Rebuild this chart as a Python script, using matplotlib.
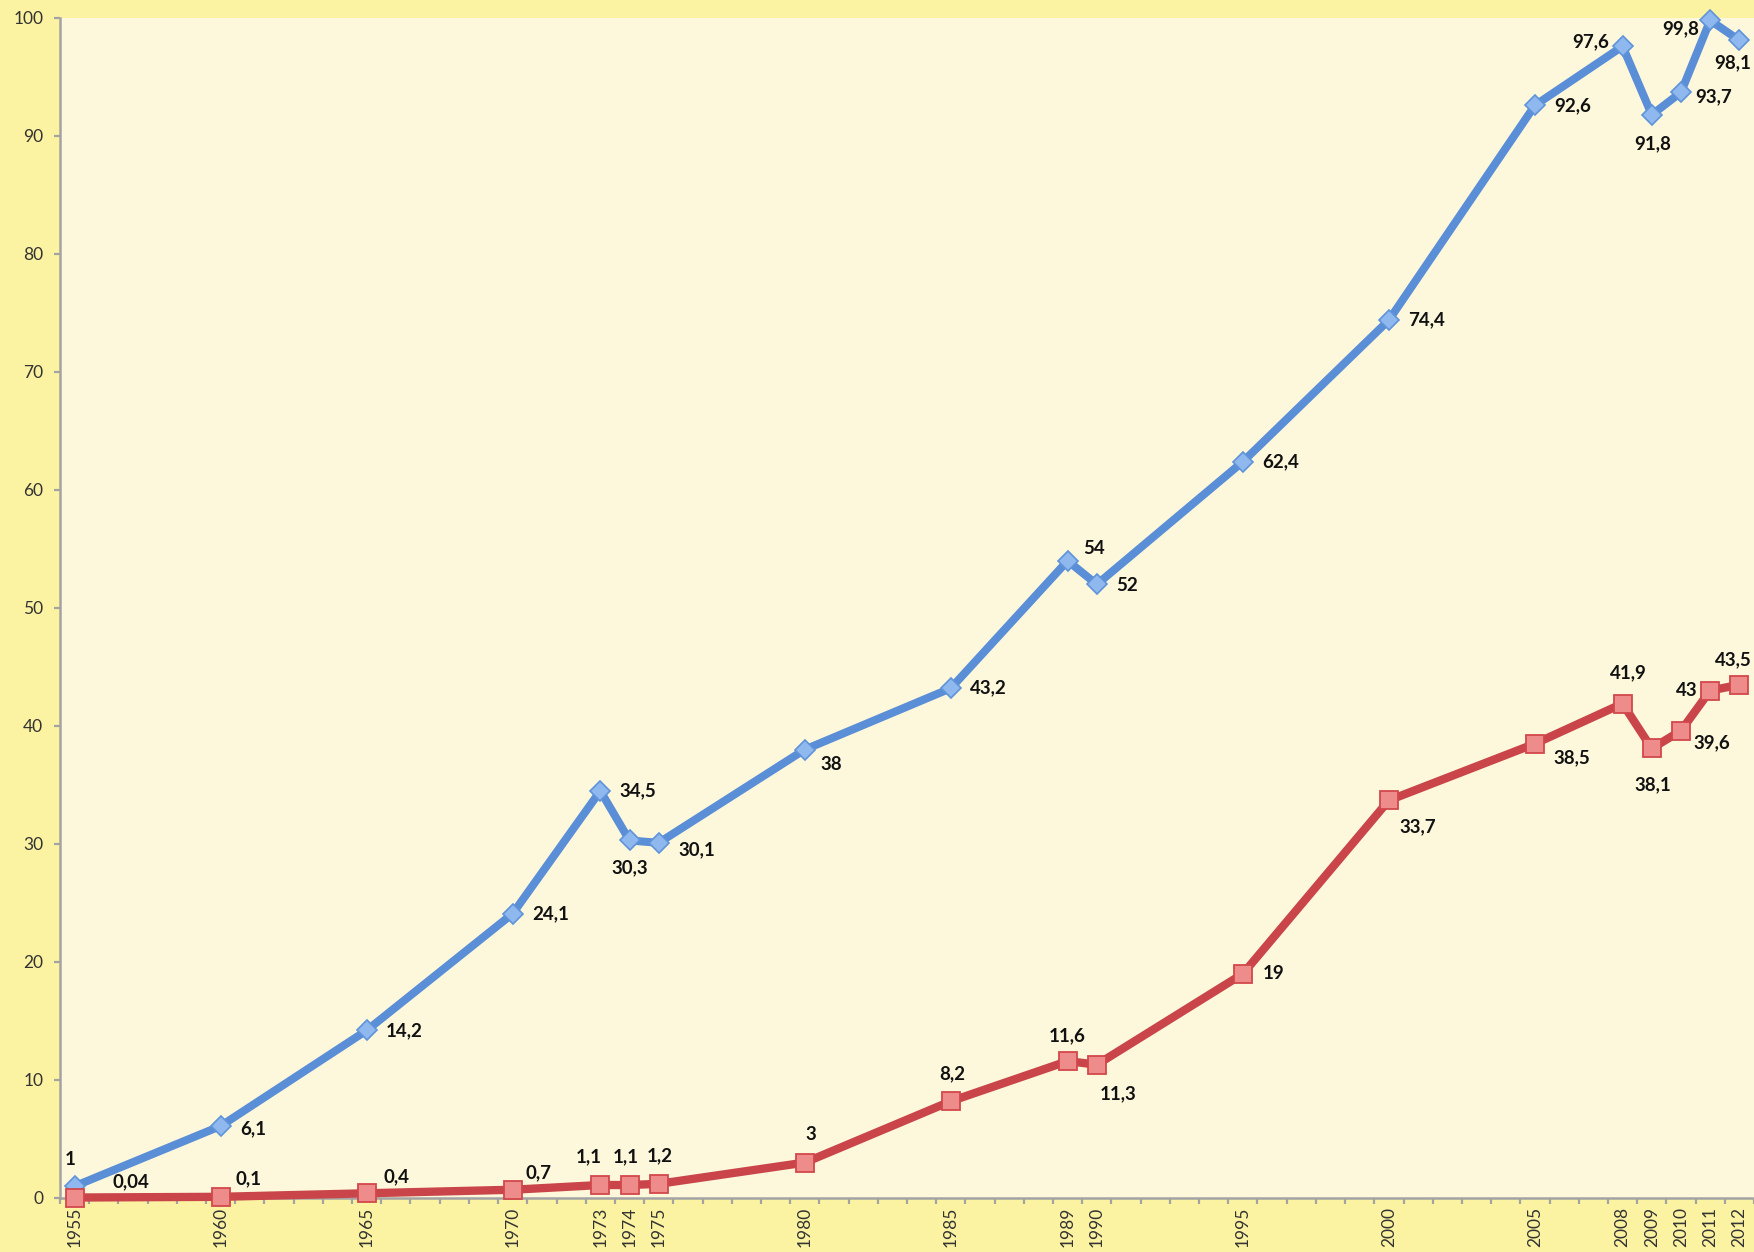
import numpy as np
import matplotlib
matplotlib.use('Agg')
import matplotlib.pyplot as plt

plt.rcParams['font.family'] = ['Lato', 'DejaVu Sans']

# data
years = [1955, 1960, 1965, 1970, 1973, 1974, 1975, 1980, 1985, 1989, 1990,
         1995, 2000, 2005, 2008, 2009, 2010, 2011, 2012]
blue_values = [1, 6.1, 14.2, 24.1, 34.5, 30.3, 30.1, 38, 43.2, 54, 52,
               62.4, 74.4, 92.6, 97.6, 91.8, 93.7, 99.8, 98.1]
red_values = [0.04, 0.1, 0.4, 0.7, 1.1, 1.1, 1.2, 3, 8.2, 11.6, 11.3,
              19, 33.7, 38.5, 41.9, 38.1, 39.6, 43, 43.5]
y_ticks = [0, 10, 20, 30, 40, 50, 60, 70, 80, 90, 100]

# label placement (dx pt, dy pt, ha) per point
R = (14, 0, 'left')
BLUE_POS = [(-3.5, 19, 'center'), (14, -2, 'left'), R, R, R,
            (0, -20, 'center'), (14, -5, 'left'), (11, -11, 'left'), R,
            (11, 9, 'left'), (14, -1, 'left'), R, R, R,
            (-10, 3, 'right'), (1, -21, 'center'), (10, -3, 'left'),
            (-8, -6, 'right'), (-5, -16, 'center')]
RED_POS = [(27, 11.5, 'left'), (11, 13, 'left'), (12, 12, 'left'),
           (9, 12, 'left'), (-8, 20, 'center'), (-3, 20, 'center'),
           (1, 20, 'center'), (4, 20, 'center'), (1, 20, 'center'),
           (0, 18, 'center'), (15, -21, 'center'), (14, 0, 'left'),
           (21, -19, 'center'), (13, -10, 'left'), (4, 22, 'center'),
           (1, -26, 'center'), (9, -9, 'left'), (-9, 0, 'right'),
           (-4, 18, 'center')]

OUTER_BG = '#FCF3A2'
PLOT_BG = '#FDF8DC'
BLUE = '#5A8ED7'
RED = '#C9454A'
AXIS_GRAY = '#A3A3A3'


def fmt(v):
    return '{:g}'.format(v).replace('.', ',')


def add_labels(ax, values, positions):
    for x, v, (dx, dy, ha) in zip(years, values, positions):
        ax.annotate(fmt(v), (x, v), xytext=(dx, dy), textcoords='offset points',
                    ha=ha, va='center', fontsize=13.5, fontweight='bold',
                    color='#111111', annotation_clip=False)


fig = plt.figure(figsize=(17.54, 12.52), dpi=100, facecolor=OUTER_BG)
ax = fig.add_axes([60 / 1754, 54 / 1252, 1694 / 1754, 1180 / 1252])
ax.set_facecolor(PLOT_BG)

ax.plot(years, blue_values, color=BLUE, lw=5.8, marker='D', markersize=10,
        markerfacecolor='#8FB8EE', markeredgecolor='#5F93DA', markeredgewidth=1.2,
        clip_on=False, zorder=3)
ax.plot(years, red_values, color=RED, lw=6, marker='s', markersize=13,
        markerfacecolor='#EE8C8C', markeredgecolor='#D2474B', markeredgewidth=1.3,
        clip_on=False, zorder=4)

add_labels(ax, blue_values, BLUE_POS)
add_labels(ax, red_values, RED_POS)

ax.set_xlim(1954.5, 2012.5)
ax.set_ylim(0, 100)

ax.set_xticks(years)
ax.set_xticklabels([str(y) for y in years], rotation=90)
ax.set_xticks(np.arange(1954.5, 2013, 1.0), minor=True)
ax.tick_params(axis='x', which='major', length=0, pad=6.5, labelsize=12.5,
               labelcolor='#333333')
ax.tick_params(axis='x', which='minor', length=4, width=1.6, color=AXIS_GRAY)

ax.set_yticks(y_ticks)
ax.tick_params(axis='y', length=4, width=1.6, color=AXIS_GRAY, pad=8,
               labelsize=12.5, labelcolor='#333333')

for side in ['top', 'right']:
    ax.spines[side].set_visible(False)
for side in ['left', 'bottom']:
    ax.spines[side].set_color(AXIS_GRAY)
    ax.spines[side].set_linewidth(1.8)

fig.savefig('out.png', dpi=100, facecolor=OUTER_BG)
